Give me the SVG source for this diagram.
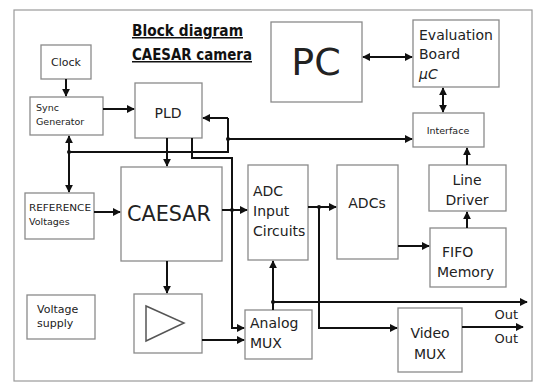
<svg xmlns="http://www.w3.org/2000/svg" width="536" height="388" viewBox="0 0 536 388">
<defs>
<marker id="ah" viewBox="0 0 10 10" refX="9" refY="5" markerWidth="4" markerHeight="4" orient="auto-start-reverse" markerUnits="strokeWidth">
<path d="M0,0 L10,5 L0,10 z" fill="#111"/>
</marker>
</defs>
<style>
.box{fill:#fff;stroke:#8a8a8a;stroke-width:1.3}
.t{font-family:"DejaVu Sans","Liberation Sans",sans-serif;fill:#222}
.c{fill:none;stroke:#111;stroke-width:2}
.a{marker-end:url(#ah)}
.b{marker-start:url(#ah);marker-end:url(#ah)}
.title{font-family:"DejaVu Sans Condensed","DejaVu Sans",sans-serif;font-stretch:condensed;font-weight:bold;font-size:15px;fill:#111;text-decoration:underline}
</style>
<rect width="536" height="388" fill="#fff"/>
<rect x="14" y="10" width="518" height="371" fill="none" stroke="#9a9a9a" stroke-width="1.2"/>
<g id="title">
<text class="title" x="132" y="36" textLength="111" lengthAdjust="spacingAndGlyphs">Block diagram</text>
<text class="title" x="132" y="60" textLength="120" lengthAdjust="spacingAndGlyphs">CAESAR camera</text>
</g>
<g id="clock"><rect class="box" x="41" y="45" width="50" height="34"/><text class="t" x="66" y="66" font-size="11" text-anchor="middle">Clock</text></g>
<g id="sync"><rect class="box" x="30" y="97" width="73" height="38"/><text class="t" x="36" y="111" font-size="9.5">Sync</text><text class="t" x="36" y="125" font-size="9.5">Generator</text></g>
<g id="pld"><rect class="box" x="135" y="83" width="67" height="55"/><text class="t" x="168" y="118" font-size="14" text-anchor="middle">PLD</text></g>
<g id="reference"><rect class="box" x="25" y="193" width="69" height="46"/><text class="t" x="29" y="211" font-size="8.5" textLength="62" lengthAdjust="spacingAndGlyphs">REFERENCE</text><text class="t" x="29" y="225" font-size="9.5">Voltages</text></g>
<g id="caesar"><rect class="box" x="121" y="167" width="101" height="94"/><text class="t" x="127" y="221" font-size="22" textLength="84" lengthAdjust="spacingAndGlyphs">CAESAR</text></g>
<g id="voltage"><rect class="box" x="27" y="295" width="68" height="44"/><text class="t" x="37" y="313" font-size="11">Voltage</text><text class="t" x="37" y="327" font-size="11">supply</text></g>
<g id="amp"><rect class="box" x="134" y="294" width="68" height="59"/><path d="M146,306 L146,341 L184,323 Z" fill="none" stroke="#555" stroke-width="1.5"/></g>
<g id="adcinput"><rect class="box" x="248" y="165" width="60" height="95"/><text class="t" x="253" y="196" font-size="14">ADC</text><text class="t" x="253" y="216" font-size="14">Input</text><text class="t" x="253" y="236" font-size="14">Circuits</text></g>
<g id="adcs"><rect class="box" x="337" y="165" width="61" height="94"/><text class="t" x="367" y="208" font-size="14" text-anchor="middle">ADCs</text></g>
<g id="analogmux"><rect class="box" x="245" y="310" width="67" height="49"/><text class="t" x="250" y="328" font-size="14">Analog</text><text class="t" x="250" y="348" font-size="14">MUX</text></g>
<g id="videomux"><rect class="box" x="398" y="308" width="64" height="64"/><text class="t" x="430" y="338" font-size="14" text-anchor="middle">Video</text><text class="t" x="430" y="359" font-size="14" text-anchor="middle">MUX</text></g>
<g id="fifo"><rect class="box" x="430" y="228" width="76" height="59"/><text class="t" x="442" y="257" font-size="14">FIFO</text><text class="t" x="437" y="277" font-size="14">Memory</text></g>
<g id="linedriver"><rect class="box" x="429" y="165" width="77" height="46"/><text class="t" x="467" y="185" font-size="14" text-anchor="middle">Line</text><text class="t" x="467" y="205" font-size="14" text-anchor="middle">Driver</text></g>
<g id="interface"><rect class="box" x="413" y="113" width="71" height="34"/><text class="t" x="448" y="134" font-size="9.5" text-anchor="middle">Interface</text></g>
<g id="evalboard"><rect class="box" x="413" y="20" width="86" height="67"/><text class="t" x="419" y="40" font-size="14">Evaluation</text><text class="t" x="419" y="59" font-size="14">Board</text><text class="t" x="419" y="79" font-size="14" font-style="italic">μC</text></g>
<g id="pc"><rect class="box" x="271" y="22" width="91" height="80"/><text class="t" x="316" y="75" font-size="38" text-anchor="middle">PC</text></g>
<g id="labels">
<text class="t" x="518" y="319" font-size="13" text-anchor="end">Out</text>
<text class="t" x="518" y="343" font-size="13" text-anchor="end">Out</text>
</g>
<g id="connectors">
<path class="c a" d="M66,79 L66,96"/>
<path class="c a" d="M103,109 L134,109"/>
<path class="c b" d="M69,136 L69,192"/>
<path class="c" d="M69,152 L228,152 L228,118"/>
<path class="c a" d="M228,118 L203,118"/>
<path class="c a" d="M228,139 L412,139"/>
<path class="c a" d="M167,138 L167,166"/>
<path class="c a" d="M94,212 L120,212"/>
<path class="c a" d="M192,138 L192,158 L232,158 L232,328 L244,328"/>
<path class="c a" d="M222,210 L247,210"/>
<path class="c a" d="M167,261 L167,293"/>
<path class="c a" d="M202,340 L244,340"/>
<path class="c a" d="M273,310 L273,261"/>
<path class="c a" d="M273,302 L527,302"/>
<path class="c a" d="M308,207 L336,207"/>
<path class="c a" d="M319,207 L319,328 L397,328"/>
<path class="c a" d="M398,246 L429,246"/>
<path class="c a" d="M467,228 L467,212"/>
<path class="c a" d="M467,165 L467,148"/>
<path class="c b" d="M443,88 L443,112"/>
<path class="c b" d="M363,57 L412,57"/>
<path class="c a" d="M462,327 L523,327"/>
<circle cx="69" cy="152" r="2" fill="#111"/>
<circle cx="228" cy="139" r="2" fill="#111"/>
<circle cx="232" cy="210" r="2" fill="#111"/>
<circle cx="319" cy="207" r="2" fill="#111"/>
<circle cx="273" cy="302" r="2" fill="#111"/>
</g>
</svg>
